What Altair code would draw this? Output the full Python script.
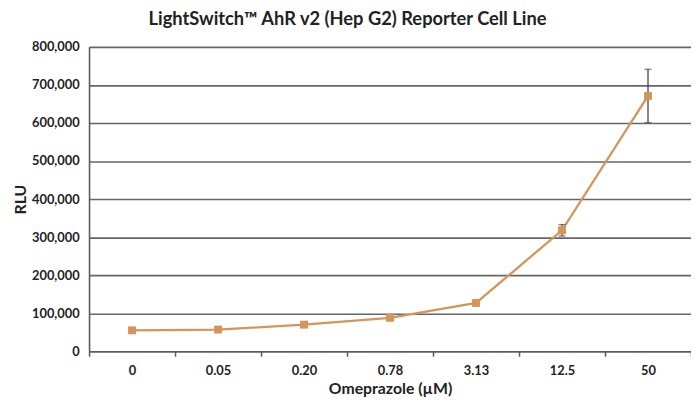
import altair as alt
import pandas as pd

conc = ["0", "0.05", "0.20", "0.78", "3.13", "12.5", "50"]
rlu = [55000, 57000, 70000, 88000, 127000, 318000, 671000]
err = [3000, 3000, 3000, 4000, 5000, 15000, 70000]

df = pd.DataFrame({
    "conc": conc,
    "rlu": rlu,
    "lo": [v - e for v, e in zip(rlu, err)],
    "hi": [v + e for v, e in zip(rlu, err)],
})

COLOR = "#D4955A"
FONT = "Lato"
AXC = "#5a5a5a"

x = alt.X("conc:N", sort=conc,
          scale=alt.Scale(paddingInner=0, paddingOuter=0),
          axis=alt.Axis(title="Omeprazole (µM)", labelAngle=0, tickBand="extent",
                        tickSize=5, tickColor=AXC, tickWidth=1.5,
                        domainColor=AXC, domainWidth=1.6,
                        labelPadding=9, labelFontSize=13, labelFontWeight="bold",
                        labelColor="#222", titleFontSize=16, titleFontWeight="bold",
                        titleColor="#222", titlePadding=3, grid=False))

yscale = alt.Scale(domain=[0, 800000], nice=False)
yaxis = alt.Axis(title="RLU", values=list(range(0, 800001, 100000)), format=",d",
                 tickSize=0, labelPadding=10, labelFontSize=13, labelOverlap=False,
                 labelFontWeight="bold", labelColor="#222",
                 titleFontSize=16, titleFontWeight="bold", titleColor="#222",
                 titlePadding=3, grid=True, gridColor="#666666", gridWidth=1.6,
                 domainColor=AXC, domainWidth=1.6)


def Y(field):
    return alt.Y(field, scale=yscale, axis=yaxis, title="RLU")


base = alt.Chart(df)

line = base.mark_line(color=COLOR, strokeWidth=2.3).encode(x=x, y=Y("rlu:Q"))
pts = base.mark_point(shape="square", filled=True, color=COLOR, size=64, opacity=1).encode(x=x, y=Y("rlu:Q"))
rule = base.mark_rule(color="#444", strokeWidth=1.3).encode(x=x, y=Y("lo:Q"), y2="hi:Q")
cap_hi = base.mark_tick(color="#444", thickness=1.3, size=7, orient="horizontal").encode(x=x, y=Y("hi:Q"))
cap_lo = base.mark_tick(color="#444", thickness=1.3, size=7, orient="horizontal").encode(x=x, y=Y("lo:Q"))

chart = alt.layer(line, rule, cap_hi, cap_lo, pts).properties(
    width=609, height=308,
    title=alt.TitleParams("LightSwitch™ AhR v2 (Hep G2) Reporter Cell Line",
                          fontSize=18.5, fontWeight="bold", color="#222", font=FONT,
                          offset=13, dx=-43),
    autosize=alt.AutoSizeParams(type="none"),
    padding={"left": 82, "top": 37, "right": 0, "bottom": 47},
).configure(font=FONT).configure_view(stroke=None)

chart.save("out.html", embed_options={"renderer": "svg", "actions": False})
